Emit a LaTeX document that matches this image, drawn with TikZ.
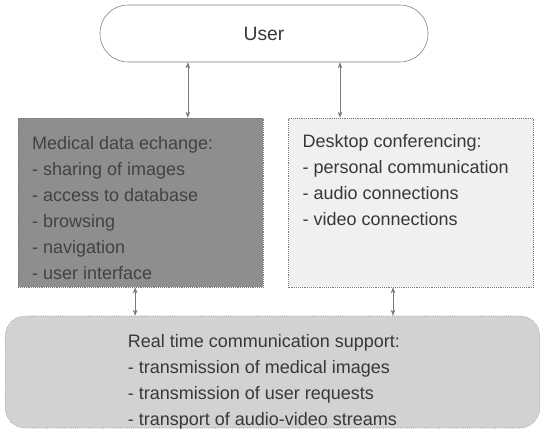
\documentclass[tikz,border=0pt]{standalone}
\usepackage{fontspec}
\setmainfont{Liberation Sans}
\usepackage{xcolor}
\usetikzlibrary{arrows.meta,positioning}

\definecolor{darkbox}{HTML}{8E8E8E}
\definecolor{lightbox}{HTML}{F0F0F0}
\definecolor{midbox}{HTML}{D2D2D2}
\definecolor{edge}{HTML}{7A7A7A}
\definecolor{ink}{HTML}{383838}

\begin{document}
\begin{tikzpicture}[
  x=0.75pt,y=-0.75pt,
  font=\fontsize{13.5}{19.5}\selectfont,
  text=ink,
  pill/.style={rectangle,rounded corners=21pt,draw=edge,fill=white,minimum width=246pt,minimum height=42.75pt},
  panel/.style={rectangle,draw=edge,densely dotted,minimum width=183.5pt,minimum height=126.75pt,inner sep=0pt},
  base/.style={rectangle,rounded corners=15pt,draw=edge,densely dotted,fill=midbox,minimum width=401pt,minimum height=84pt},
  txt/.style={align=left,inner sep=0pt,anchor=north west},
  arr/.style={{Stealth[length=1.6mm,width=1.2mm]}-{Stealth[length=1.6mm,width=1.2mm]},draw=edge,thin}
]
\useasboundingbox (0,0) rectangle (545,433);

\node[pill] (user) at (264,33.5) {\fontsize{14.5}{16}\selectfont User};
\node[panel,fill=darkbox] (med) at (140.5,202.5) {};
\node[panel,fill=lightbox] (desk) at (411,202.5) {};
\node[base] (rt) at (272.5,372) {};

% box contents
\node[txt,text=black!74] (medtxt) at ([shift={(10.5pt,-13.5pt)}]med.north west)
  {Medical data echange:\\- sharing of images\\- access to database\\- browsing\\- navigation\\- user interface};
\node[txt] (desktxt) at ([shift={(10.5pt,-12.5pt)}]desk.north west)
  {Desktop conferencing:\\- personal communication\\- audio connections\\- video connections};
\node[txt] (rttxt) at ([shift={(92pt,-14pt)}]rt.north west)
  {Real time communication support:\\- transmission of medical images\\- transmission of user requests\\- transport of audio-video streams};

\draw[arr] ([xshift=35.5pt]med.north |- user.south) -- ([xshift=35.5pt]med.north);
\draw[arr] ([xshift=-53.25pt]desk.north |- user.south) -- ([xshift=-53.25pt]desk.north);
\draw[arr] ([xshift=-4pt]med.south) -- ([xshift=-4pt]med.south |- rt.north);
\draw[arr] ([xshift=-13.5pt]desk.south) -- ([xshift=-13.5pt]desk.south |- rt.north);
\end{tikzpicture}
\end{document}
